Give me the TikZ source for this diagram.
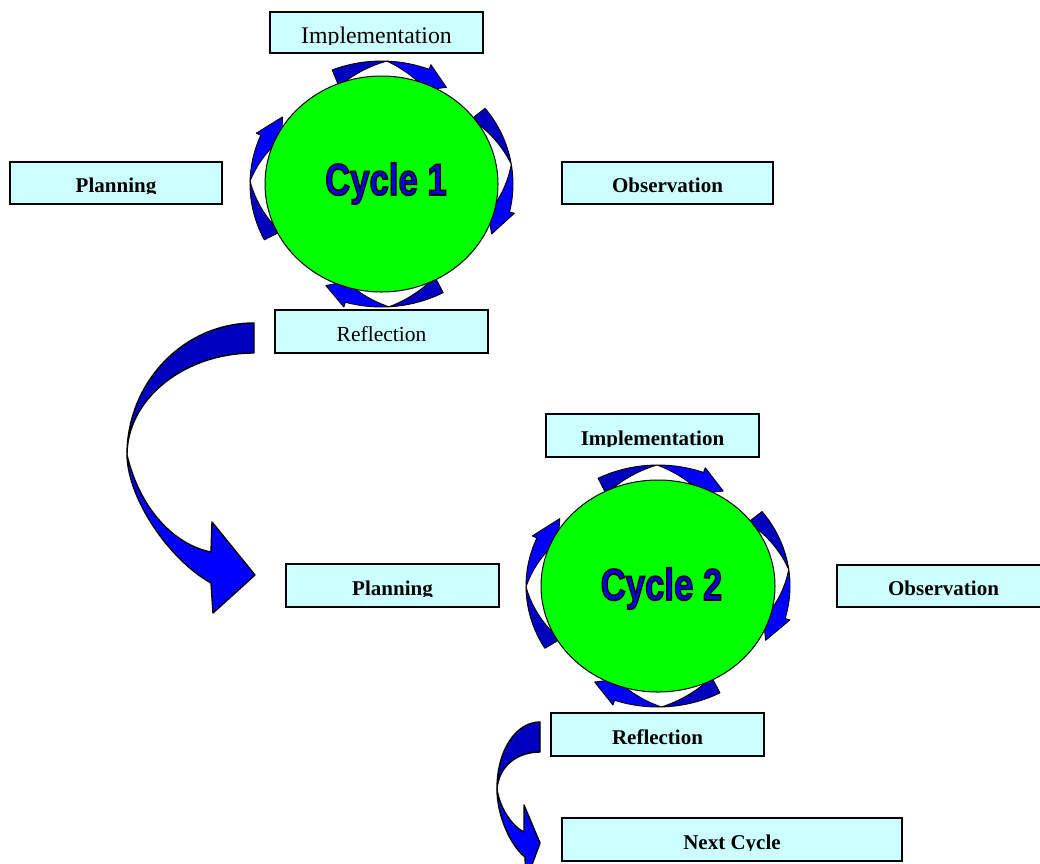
\documentclass[tikz,border=0pt]{standalone}
\usepackage{fontspec}
\usetikzlibrary{shapes.geometric}
\setmainfont{Liberation Serif}
\newfontfamily\cycsans{Liberation Sans}
\definecolor{boxfill}{RGB}{204,255,255}
\definecolor{ballgreen}{RGB}{0,255,0}
\definecolor{arrdark}{RGB}{0,0,192}
\definecolor{arrbright}{RGB}{0,0,255}
\definecolor{cyctext}{RGB}{0,0,235}
\newcommand\bfl{\fontsize{21}{25}\selectfont\bfseries}
\newcommand\rgl{\fontsize{21.5}{25}\selectfont}
\newcommand\rglbig{\fontsize{23.8}{27}\selectfont}
\newcommand\outlined[1]{\special{pdf:literal direct 0 0 0 RG 1.6 w 2 Tr}#1\special{pdf:literal direct 0 Tr}}
% #1 name, #2 x1, #3 y1, #4 x2, #5 y2, #6 font, #7 text, #8 baseline offset from bottom
\newcommand\lboxb[8]{%
  \node[box, minimum width={#4-#2}, minimum height={#5-#3}] (#1) at ({(#2+#4)/2},{(#3+#5)/2}) {};
  \begin{scope}
    \clip (#2,#3) rectangle (#4,{#5-#8+1.5});
    \node[lbl, font=#6] (#1-text) at ({(#2+#4)/2},{#5-#8}) {#7};
  \end{scope}}
\newcommand\lbox[7]{\lboxb{#1}{#2}{#3}{#4}{#5}{#6}{#7}{12}}
\def\dI{-3}
\def\dO{15}
% #1 cx, #2 cy, #3 rx, #4 ry, #5 tail angle, #6 tip angle
\newcommand\cycarrow[6]{%
  \pgfmathsetmacro\cA{#5}\pgfmathsetmacro\cB{#6}%
  \pgfmathsetmacro\cM{\cA+0.45*(\cB-\cA)}%
  \pgfmathsetmacro\cH{\cA+0.8*(\cB-\cA)}%
  \filldraw[arrdarkst]
    plot[domain=\cA:\cM,samples=25,variable=\t] ({#1+(#3+\dO)*cos(\t)},{#2-(#4+\dO)*sin(\t)})
    -- plot[domain=\cM:\cA,samples=25,variable=\t]
      ({#1+(#3+\dI+(\dO-\dI)*(\t-\cA)/(\cM-\cA))*cos(\t)},{#2-(#4+\dI+(\dO-\dI)*(\t-\cA)/(\cM-\cA))*sin(\t)})
    -- cycle;
  \filldraw[arrbrightst]
    plot[domain=\cM:\cH,samples=25,variable=\t] ({#1+(#3+\dO)*cos(\t)},{#2-(#4+\dO)*sin(\t)})
    -- ({#1+(#3+\dO+5)*cos(\cH)},{#2-(#4+\dO+5)*sin(\cH)})
    -- ({#1+(#3+(\dI+\dO)/2)*cos(\cB)},{#2-(#4+(\dI+\dO)/2)*sin(\cB)})
    -- ({#1+(#3+\dI-5)*cos(\cH)},{#2-(#4+\dI-5)*sin(\cH)})
    -- plot[domain=\cH:\cM,samples=25,variable=\t]
      ({#1+(#3+\dI+(\dO-\dI)*(\t-\cH)/(\cM-\cH))*cos(\t)},{#2-(#4+\dI+(\dO-\dI)*(\t-\cH)/(\cM-\cH))*sin(\t)})
    -- cycle;}
\begin{document}
\begin{tikzpicture}[x=1pt,y=-1pt,
  box/.style={draw=black, line width=1.3pt, fill=boxfill, rectangle, inner sep=0pt},
  lbl/.style={anchor=base, inner sep=0pt, text=black},
  ball/.style={draw=black, line width=1pt, fill=ballgreen},
  cyclabel/.style={anchor=base, inner sep=0pt, text=cyctext, font=\cycsans\bfseries\fontsize{44.5}{50}\selectfont},
  arrdarkst/.style={fill=arrdark, draw=black, line width=0.9pt, line join=round},
  arrbrightst/.style={fill=arrbright, draw=black, line width=0.9pt, line join=round},
  bigdark/.style={fill=arrdark, draw=black, line width=1.4pt, line join=round},
  bigbright/.style={fill=arrbright, draw=black, line width=1.4pt, line join=round}]
\useasboundingbox (0,0) rectangle (1040,863);
\clip (0,0) rectangle (1040,863);
\fill[white] (0,0) rectangle (1040,863);

% ---- cycle 1 ----
\cycarrow{381.5}{184}{116.5}{108}{112}{58}
\cycarrow{381.5}{184}{116.5}{108}{38}{-26}
\cycarrow{381.5}{184}{116.5}{108}{-62}{-117}
\cycarrow{381.5}{184}{116.5}{108}{207}{144}
\node[ball, ellipse, minimum width=233pt, minimum height=216pt, inner sep=0pt] (c1) at (381.5,184) {};
\node[cyclabel] (c1-text) at (386,195) {\scalebox{0.78}[1]{\outlined{Cycle 1}}};

\lboxb{impl1}{270}{12}{483}{53}{\rglbig}{Implementation}{10}
\lbox{plan1}{10}{162}{222}{204}{\bfl}{Planning}
\lbox{obs1}{562}{162}{773}{204}{\bfl}{Observation}
\lbox{refl1}{275}{310}{488}{353}{\rgl}{Reflection}

% ---- big arrow from cycle 1 to cycle 2 ----
\filldraw[bigdark] (254,323) .. controls (184,323) and (127,382) .. (127,455)
  .. controls (127,399) and (184,353) .. (254,353) -- cycle;
\filldraw[bigbright] (127,455) .. controls (128,500) and (170,560) .. (211,583)
  -- (213,613) -- (255,575) -- (212,522) -- (211,552)
  .. controls (175,545) and (140,510) .. (127,455) -- cycle;

% ---- cycle 2 ----
\cycarrow{658}{586}{117}{106}{117}{58}
\cycarrow{658}{586}{117}{106}{38}{-29}
\cycarrow{658}{586}{117}{106}{-62}{-121}
\cycarrow{658}{586}{117}{106}{211}{143}
\node[ball, ellipse, minimum width=234pt, minimum height=212pt, inner sep=0pt] (c2) at (658,586) {};
\node[cyclabel] (c2-text) at (661.5,600) {\scalebox{0.78}[1]{\outlined{Cycle 2}}};

\lbox{impl2}{546}{414}{759}{457}{\bfl}{Implementation}
\lbox{plan2}{286}{564}{499}{607}{\bfl}{Planning}
\lbox{obs2}{837}{565}{1050}{607}{\bfl}{Observation}
\lbox{refl2}{551}{713}{764}{756}{\bfl}{Reflection}
\lbox{next}{562}{818}{902}{861}{\bfl}{Next Cycle}

% ---- small arrow to next cycle ----
\filldraw[bigdark] (540,722) .. controls (516,722) and (497,750) .. (497,789)
  .. controls (499,765) and (518,752) .. (540,752) -- cycle;
\filldraw[bigbright] (497,789) .. controls (497,815) and (510,845) .. (525,857)
  -- (526,881) -- (540,843) -- (524,805) -- (524,832)
  .. controls (510,825) and (499,805) .. (497,789) -- cycle;
\end{tikzpicture}
\end{document}
